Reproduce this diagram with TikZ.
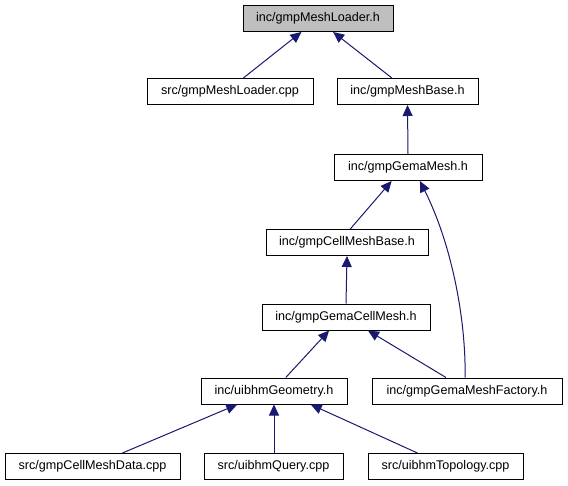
\documentclass[tikz,border=0pt]{standalone}
\usepackage{fontspec}
\setmainfont{Liberation Sans}
\usetikzlibrary{arrows.meta,calc}
\definecolor{edgecol}{RGB}{25,25,112}
\tikzset{
  fbox/.style={draw=black, line width=1pt, inner sep=0pt, minimum height=26pt, font=\fontsize{12.6}{14}\selectfont},
  rootbox/.style={fbox, fill={rgb,255:red,191;green,191;blue,191}},
  dep/.style={draw=edgecol, line width=1pt, {Triangle[length=11pt,width=10pt,fill=edgecol]}-},
}
\begin{document}
\begin{tikzpicture}[x=1pt,y=-1pt]
\useasboundingbox (0,0) rectangle (568,485);
\fill[white] (0,0) rectangle (568,485);
\node[rootbox, minimum width=150pt] (ml) at (318,18.5) {inc/gmpMeshLoader.h};
\node[fbox, minimum width=166pt] (mlc) at (230,91.5) {src/gmpMeshLoader.cpp};
\node[fbox, minimum width=141pt] (mb) at (407.5,91.5) {inc/gmpMeshBase.h};
\node[fbox, minimum width=148pt] (gm) at (408,167.5) {inc/gmpGemaMesh.h};
\node[fbox, minimum width=162pt] (cmb) at (347,242.5) {inc/gmpCellMeshBase.h};
\node[fbox, minimum width=168pt] (gcm) at (346,317) {inc/gmpGemaCellMesh.h};
\node[fbox, minimum width=146pt] (geo) at (274,391) {inc/uibhmGeometry.h};
\node[fbox, minimum width=190pt] (fac) at (467,391) {inc/gmpGemaMeshFactory.h};
\node[fbox, minimum width=175pt] (cmd) at (92.5,466.5) {src/gmpCellMeshData.cpp};
\node[fbox, minimum width=139pt] (qry) at (273.5,466.5) {src/uibhmQuery.cpp};
\node[fbox, minimum width=155pt] (top) at (445.5,466.5) {src/uibhmTopology.cpp};

\draw[dep] ($(ml.south west)!0.39!(ml.south east)$) -- ($(mlc.north west)!0.58!(mlc.north east)$);
\draw[dep] ($(ml.south west)!0.60!(ml.south east)$) -- ($(mb.north west)!0.39!(mb.north east)$);
\draw[dep] (mb.south) -- (gm.north);
\draw[dep] ($(gm.south west)!0.39!(gm.south east)$) -- ($(cmb.north west)!0.52!(cmb.north east)$);
\draw[dep] ($(gm.south west)!0.58!(gm.south east)$) .. controls (452,245) and (466,320) .. ($(fac.north west)!0.49!(fac.north east)$);
\draw[dep] (cmb.south) -- (gcm.north);
\draw[dep] ($(gcm.south west)!0.40!(gcm.south east)$) -- ($(geo.north west)!0.58!(geo.north east)$);
\draw[dep] ($(gcm.south west)!0.63!(gcm.south east)$) -- ($(fac.north west)!0.39!(fac.north east)$);
\draw[dep] ($(geo.south west)!0.25!(geo.south east)$) -- ($(cmd.north west)!0.67!(cmd.north east)$);
\draw[dep] (geo.south) -- (geo.south |- qry.north);
\draw[dep] ($(geo.south west)!0.75!(geo.south east)$) -- ($(top.north west)!0.32!(top.north east)$);
\end{tikzpicture}
\end{document}
